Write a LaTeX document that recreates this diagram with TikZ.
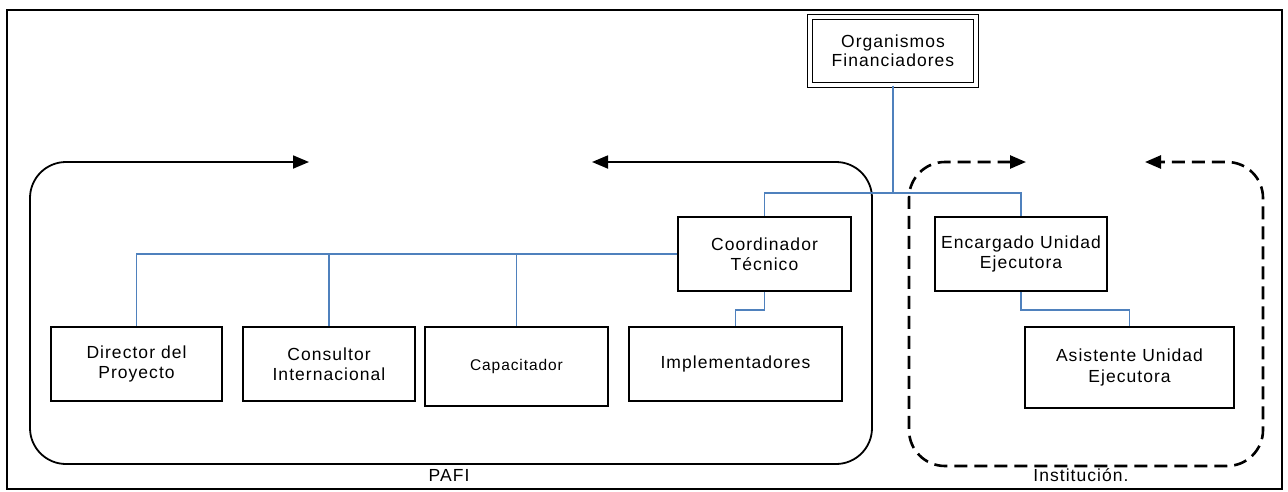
\documentclass[tikz,border=0pt]{standalone}
\usepackage{fontspec}
\setmainfont{Liberation Sans}[LetterSpace=6]
\usetikzlibrary{arrows.meta}

\definecolor{linkblue}{RGB}{79,129,189}

\tikzset{
  unit/.style={draw, line width=1.6pt, fill=white, inner sep=0pt, align=center,
    minimum width=172pt, minimum height=74pt,
    font=\fontsize{17.5}{20.5}\selectfont},
  link/.style={draw=linkblue, line width=1.5pt},
  headtip/.style={Triangle[length=16pt,width=13pt]},
  groupframe/.style={line width=1.8pt, rounded corners=36pt,
    {Triangle[length=16pt,width=13pt]}-{Triangle[length=16pt,width=13pt]}},
  caption/.style={anchor=base, inner sep=0pt, font=\fontsize{17.5}{20.5}\selectfont},
}

\begin{document}
\begin{tikzpicture}[x=1pt,y=-1pt]
  \useasboundingbox (0,0) rectangle (1288,491);

  % outer border
  \draw[line width=1.5pt] (7,10) -- (7,489);
  \draw[line width=1.3pt] (1282,10) -- (1282,489);
  \draw[line width=2.8pt] (6,10) -- (1283,10);
  \draw[line width=2.8pt] (6,489) -- (1283,489);

  % group frames, open at the top
  \coordinate (pafiL) at (309,162);
  \coordinate (pafiR) at (592,162);
  \draw[groupframe] (pafiL) -- (30,162) -- (30,464) -- (872,464) -- (872,162) -- (pafiR);

  \coordinate (instL) at (1026,162);
  \coordinate (instR) at (1145,162);
  \draw[groupframe, line width=2.6pt, dash pattern=on 13pt off 7pt]
    (instL) -- (909,162) -- (909,466) -- (1263,466) -- (1263,162) -- (instR);

  \node[caption] (pafi) at (449,481) {PAFI};
  \node[caption] (inst) at (1081,481) {Institución.};

  % units
  \node[unit, double, double distance=3.2pt, line width=1.3pt,
        minimum width=166pt, minimum height=68pt,
        font=\fontsize{17.5}{19}\selectfont] (org) at (893,51) {Organismos\\Financiadores};
  \node[unit, minimum width=173pt] (coord) at (764.5,254) {Coordinador\\Técnico};
  \node[unit] (enc) at (1021,254) {Encargado Unidad\\Ejecutora};
  \node[unit, minimum width=171pt] (dir) at (136.5,364) {Director del\\Proyecto};
  \node[unit] (cons) at (329,364) {Consultor\\Internacional};
  \node[unit, minimum width=183pt, minimum height=79pt,
        font=\fontsize{15.5}{18}\selectfont] (cap) at (516.5,366.5) {Capacitador};
  \node[unit, minimum width=213pt] (impl) at (735.5,364) {Implementadores};
  \node[unit, minimum width=209pt, minimum height=81pt] (asist) at (1129.5,367.5) {Asistente Unidad\\Ejecutora};

  % connectors
  \coordinate (split) at (893,193);
  \draw[link] (org.south) -- (split) -| (coord.north);
  \draw[link] (split) -| (enc.north);
  \draw[link] (coord.west) -| (dir.north);
  \draw[link] (coord.west) -| (cons.north);
  \draw[link] (coord.west) -| (cap.north);
  \draw[link] (coord.south) -- ++(0,18) -| (impl.north);
  \draw[link] (enc.south) -- ++(0,18) -| (asist.north);
\end{tikzpicture}
\end{document}
